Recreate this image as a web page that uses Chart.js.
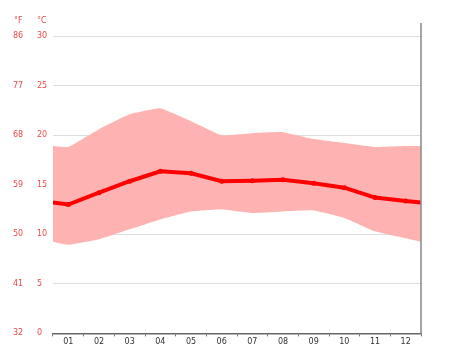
<!DOCTYPE html>
<html>
<head>
<meta charset="utf-8">
<script src="https://cdn.jsdelivr.net/npm/chart.js@4"></script>
<style>
html,body{margin:0;padding:0;background:#fff;}
#wrap{width:474px;height:355px;}
</style>
</head>
<body>
<div id="wrap"><canvas id="c" width="474" height="355"></canvas></div>
<script>
// Data (°C)
const months = ['01','02','03','04','05','06','07','08','09','10','11','12'];
const meanC = [13.0, 14.2, 15.35, 16.35, 16.15, 15.35, 15.4, 15.5, 15.15, 14.7, 13.7, 13.35];
const maxC  = [18.8, 20.6, 22.1, 22.7, 21.4, 20.0, 20.2, 20.3, 19.6, 19.2, 18.8, 18.9];
const minC  = [8.95, 9.5, 10.5, 11.5, 12.3, 12.5, 12.15, 12.3, 12.4, 11.65, 10.3, 9.6];
// values at the left/right edges of the plot (year wrap-around)
const meanEdge = 13.2;
const maxEdge = 18.9;
const minEdge = 9.25;
const cTicks = [0, 5, 10, 15, 20, 25, 30];
const fTicks = [32, 41, 50, 59, 68, 77, 86];

function series(vals, edge) {
  const pts = [{x: 0, y: edge}];
  vals.forEach((v, i) => pts.push({x: i + 0.5, y: v}));
  pts.push({x: months.length, y: edge});
  return pts;
}

const red = '#ef4848';
const lastIdx = months.length + 1;

const headerPlugin = {
  id: 'headers',
  afterDraw(chart) {
    const ctx = chart.ctx;
    const ca = chart.chartArea;
    ctx.save();
    // right border line
    ctx.strokeStyle = '#888';
    ctx.lineWidth = 1.5;
    ctx.beginPath();
    ctx.moveTo(ca.right, ca.top - 13);
    ctx.lineTo(ca.right, ca.bottom);
    ctx.stroke();
    // headers
    ctx.fillStyle = red;
    ctx.font = '8px "DejaVu Sans"';
    ctx.textBaseline = 'middle';
    ctx.textAlign = 'left';
    ctx.fillText('°F', chart.scales.yF.left + 1, ca.top - 15);
    ctx.fillText('°C', chart.scales.y.left, ca.top - 15);
    ctx.restore();
  }
};

new Chart(document.getElementById('c'), {
  type: 'line',
  data: {
    labels: months,
    datasets: [
      {
        label: 'mean',
        data: series(meanC, meanEdge),
        xAxisID: 'xl',
        yAxisID: 'y',
        borderColor: '#ff0000',
        backgroundColor: '#ff0000',
        borderWidth: 4,
        pointRadius: (c) => (c.dataIndex === 0 || c.dataIndex === lastIdx) ? 0 : 2.5,
        pointBorderWidth: 0,
        fill: false,
        tension: 0
      },
      {
        label: 'min',
        data: series(minC, minEdge),
        xAxisID: 'xl',
        yAxisID: 'y',
        borderWidth: 0,
        borderColor: 'rgba(0,0,0,0)',
        pointRadius: 0,
        fill: false,
        tension: 0.15
      },
      {
        label: 'max',
        data: series(maxC, maxEdge),
        xAxisID: 'xl',
        yAxisID: 'y',
        borderWidth: 0,
        borderColor: 'rgba(0,0,0,0)',
        backgroundColor: 'rgb(255,178,178)',
        pointRadius: 0,
        fill: '-1',
        tension: 0.1
      }
    ]
  },
  options: {
    responsive: false,
    animation: false,
    events: [],
    layout: {padding: {left: 13, right: 53, top: 36, bottom: 7}},
    plugins: {
      legend: {display: false},
      tooltip: {enabled: false},
      filler: {drawTime: 'beforeDatasetsDraw'}
    },
    scales: {
      x: {
        type: 'category',
        position: 'bottom',
        offset: true,
        grid: {offset: true, drawOnChartArea: false, tickLength: 3, color: '#666', tickWidth: 1},
        border: {color: '#666', width: 1.5},
        ticks: {color: '#333', font: {size: 8, family: 'DejaVu Sans'}, padding: 1, maxRotation: 0}
      },
      xl: {
        type: 'linear',
        display: false,
        min: 0,
        max: months.length
      },
      y: {
        type: 'linear',
        position: 'left',
        weight: 0,
        min: 0,
        max: 30,
        afterBuildTicks: (s) => { s.ticks = cTicks.map(v => ({value: v})); },
        afterFit: (s) => { s.width = 16; },
        grid: {color: '#dddddd', lineWidth: 1, drawTicks: false},
        border: {display: false},
        ticks: {color: red, crossAlign: 'far', padding: 0, font: {size: 8, family: 'DejaVu Sans'}}
      },
      yF: {
        type: 'linear',
        position: 'left',
        weight: 1,
        min: 32,
        max: 86,
        afterBuildTicks: (s) => { s.ticks = fTicks.map(v => ({value: v})); },
        afterFit: (s) => { s.width = 24; },
        grid: {drawOnChartArea: false, drawTicks: false},
        border: {display: false},
        ticks: {color: red, crossAlign: 'far', padding: 0, font: {size: 8, family: 'DejaVu Sans'}}
      }
    }
  },
  plugins: [headerPlugin]
});
</script>
</body>
</html>
